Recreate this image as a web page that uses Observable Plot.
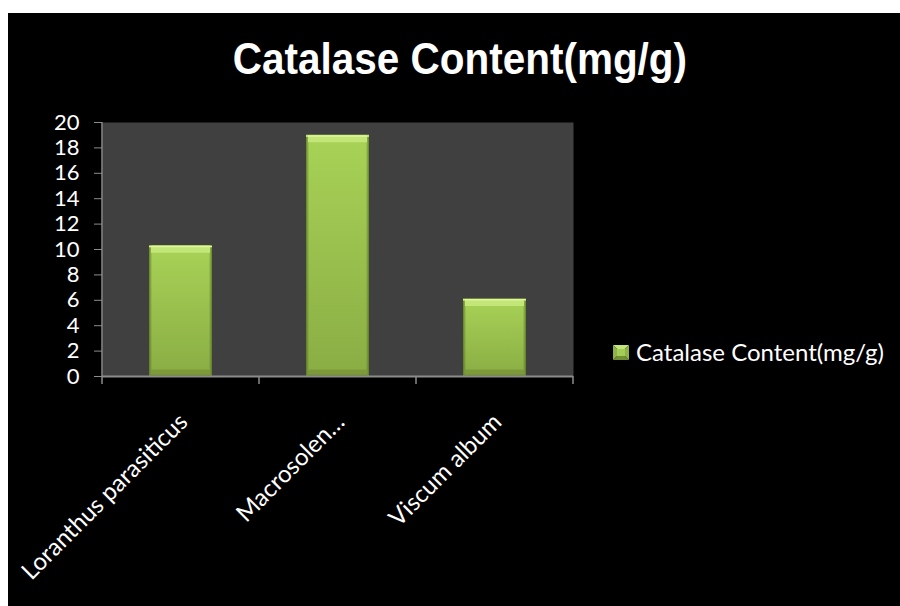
<!DOCTYPE html>
<html>
<head>
<meta charset="utf-8">
<script src="https://cdn.jsdelivr.net/npm/d3@7"></script>
<script src="https://cdn.jsdelivr.net/npm/@observablehq/plot@0.6"></script>
<style>
  html, body { margin: 0; padding: 0; background: #ffffff; }
  #chart {
    position: absolute; left: 8px; top: 13px; width: 892px; height: 593px;
    background: #000000; overflow: hidden;
  }
  #chart svg { position: absolute; left: 0; top: 0; }
  #title {
    position: absolute; left: 0; width: 904px; top: 24px; margin: 0;
    text-align: center; color: #ffffff;
    font-family: "Liberation Sans Narrow", "Arial Narrow", "Liberation Sans", sans-serif;
    font-weight: bold; font-size: 44px; line-height: 44px;
  }
  #title span { display: inline-block; transform: scaleX(0.92); transform-origin: 50% 50%; }
  #legend {
    position: absolute; left: 605px; top: 326px; color: #ffffff;
    font-family: Lato, "Open Sans", sans-serif; font-size: 24px; line-height: 26px;
    display: flex; align-items: center; white-space: nowrap;
  }
  #legend svg { position: static; margin-right: 7px; }
</style>
</head>
<body>
<div id="chart">
  <h1 id="title"><span></span></h1>
  <div id="legend"></div>
</div>
<script>
// Catalase content of three mistletoe species
const species = ["Loranthus parasiticus", "Macrosolen…", "Viscum album"];
const catalase = [10.3, 19.0, 6.1];
const yTicks = [0, 2, 4, 6, 8, 10, 12, 14, 16, 18, 20];
const seriesName = "Catalase Content(mg/g)";

const data = species.map((name, i) => ({name, value: catalase[i]}));

document.querySelector("#title span").textContent = seriesName;

// Gradients giving the bars their bevelled, glossy look
const gradients = () => {
  const defs = d3.create("svg:defs");
  const v = defs.append("linearGradient").attr("id", "barFill")
    .attr("x1", 0).attr("y1", 0).attr("x2", 0).attr("y2", 1);
  v.append("stop").attr("offset", "0%").attr("stop-color", "#a8d257");
  v.append("stop").attr("offset", "100%").attr("stop-color", "#8aad44");
  const h = defs.append("linearGradient").attr("id", "barSides")
    .attr("x1", 0).attr("y1", 0).attr("x2", 1).attr("y2", 0);
  h.append("stop").attr("offset", "0%").attr("stop-color", "#4e6a1c").attr("stop-opacity", 0.75);
  h.append("stop").attr("offset", "5%").attr("stop-color", "#4e6a1c").attr("stop-opacity", 0);
  h.append("stop").attr("offset", "95%").attr("stop-color", "#4e6a1c").attr("stop-opacity", 0);
  h.append("stop").attr("offset", "100%").attr("stop-color", "#4e6a1c").attr("stop-opacity", 0.75);
  return defs.node();
};

// Left axis line and category boundary ticks along the bottom axis
const frameLines = (index, scales, values, dim) => {
  const g = d3.create("svg:g").attr("stroke", "#8c8c8c").attr("fill", "none");
  const x0 = dim.marginLeft, x1 = dim.width - dim.marginRight;
  const y0 = dim.marginTop, y1 = dim.height - dim.marginBottom;
  g.append("line").attr("x1", x0).attr("x2", x0).attr("y1", y0).attr("y2", y1 + 1)
    .attr("stroke-width", 1.5);
  const step = (x1 - x0) / species.length;
  for (let k = 0; k <= species.length; ++k) {
    const x = x0 + k * step;
    g.append("line").attr("x1", x).attr("x2", x).attr("y1", y1).attr("y2", y1 + 8)
      .attr("stroke-width", 1.5);
  }
  return g.node();
};

const plot = Plot.plot({
  width: 892,
  height: 593,
  marginLeft: 94,
  marginRight: 327,
  marginTop: 109,
  marginBottom: 230,
  style: {background: "transparent", color: "#ffffff", fontFamily: "Lato, 'Open Sans', sans-serif"},
  x: {domain: species, paddingInner: 0.6, paddingOuter: 0.3, axis: null},
  y: {domain: [0, 20], axis: null},
  marks: [
    gradients,
    Plot.frame({fill: "#404040", stroke: "none"}),
    Plot.barY(data, {x: "name", y: "value", fill: "url(#barFill)"}),
    Plot.barY(data, {x: "name", y: "value", fill: "url(#barSides)"}),
    // top bevel
    Plot.tickY(data, {x: "name", y: "value", stroke: "#c2e678", strokeWidth: 7, dy: 3.5, insetLeft: 2, insetRight: 2}),
    Plot.tickY(data, {x: "name", y: "value", stroke: "#dff698", strokeWidth: 1.5, dy: 0.75}),
    // bottom bevel
    Plot.tickY(data, {x: "name", y: () => 0, stroke: "#7c9a3a", strokeWidth: 7, dy: -3.5, insetLeft: 2, insetRight: 2}),
    Plot.tickY(data, {x: "name", y: () => 0, stroke: "#66832c", strokeWidth: 1.5, dy: -1}),
    Plot.ruleY([0], {stroke: "#8c8c8c", strokeWidth: 2}),
    frameLines,
    Plot.axisY({ticks: yTicks, tickSize: 8, tickPadding: 15, stroke: "#8c8c8c", fill: "#ffffff", fontSize: 22, label: null}),
    Plot.text(data, {
      x: "name", text: "name", frameAnchor: "bottom",
      rotate: -45, textAnchor: "end", dx: 8, dy: 47,
      fill: "#ffffff", fontSize: 24
    })
  ]
});

document.getElementById("chart").appendChild(plot);

// Legend entry with a small bevelled swatch
const legend = document.getElementById("legend");
const sw = d3.create("svg").attr("width", 16).attr("height", 15);
sw.append("polygon").attr("points", "0,0 16,0 8,7.5").attr("fill", "#c4e57c");
sw.append("polygon").attr("points", "0,0 8,7.5 0,15").attr("fill", "#8fb24a");
sw.append("polygon").attr("points", "16,0 8,7.5 16,15").attr("fill", "#8fb24a");
sw.append("polygon").attr("points", "0,15 8,7.5 16,15").attr("fill", "#6f8f33");
sw.append("rect").attr("x", 4).attr("y", 4).attr("width", 8).attr("height", 7).attr("fill", "#a4cd55");
legend.appendChild(sw.node());
const lt = document.createElement("span");
lt.textContent = seriesName;
legend.appendChild(lt);
</script>
</body>
</html>
